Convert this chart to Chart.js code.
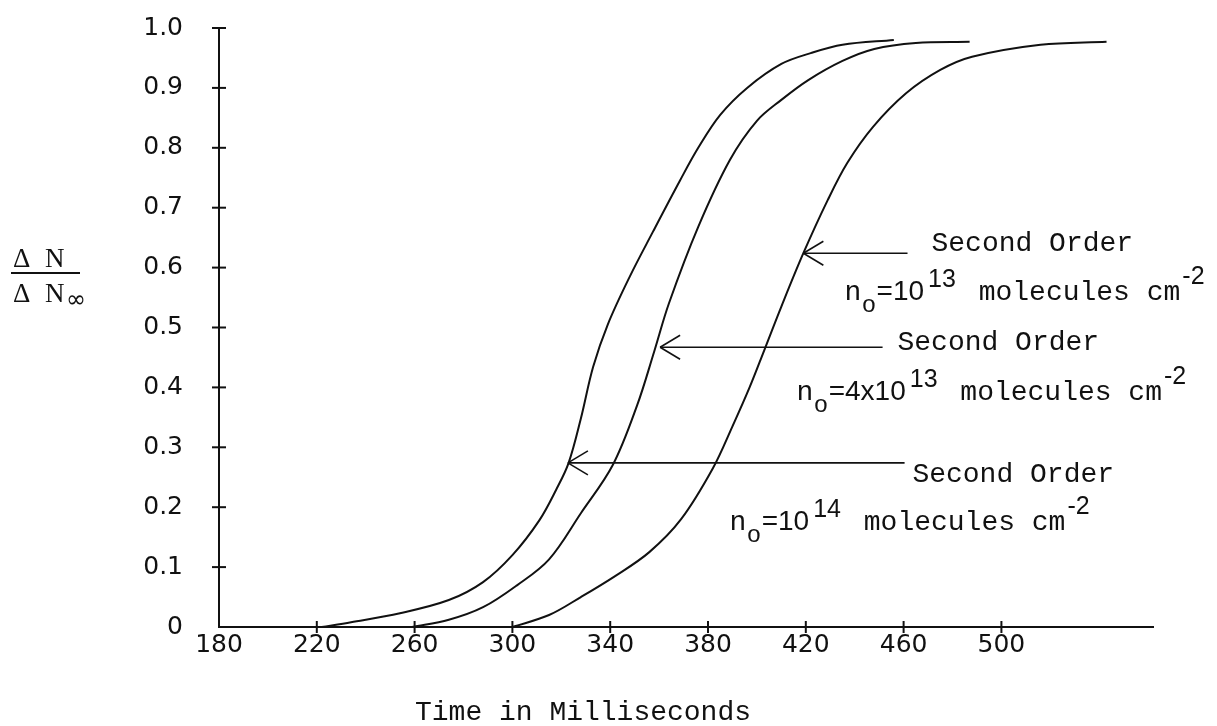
<!DOCTYPE html>
<html><head><meta charset="utf-8">
<script src="https://cdn.jsdelivr.net/npm/chart.js@4.4.1/dist/chart.umd.min.js"></script>
<style>html,body{margin:0;padding:0;background:#fff;}canvas{display:block;}</style>
</head><body>
<canvas id="c" width="1217" height="726"></canvas>
<script>
// ---- data ----
const xTickValues = [180, 220, 260, 300, 340, 380, 420, 460, 500];
const yTickValues = [0, 0.1, 0.2, 0.3, 0.4, 0.5, 0.6, 0.7, 0.8, 0.9, 1.0];
const yTickLabels = ['0', '0.1', '0.2', '0.3', '0.4', '0.5', '0.6', '0.7', '0.8', '0.9', '1.0'];

// n0 = 10^14 (leftmost curve)
const time14  = [222, 234, 254, 274, 288, 300, 311, 318, 323, 328, 333, 339, 348, 357.5, 368.5, 376, 385, 396, 410, 422, 435, 456];
const value14 = [0, 0.008, 0.023, 0.045, 0.075, 0.12, 0.178, 0.23, 0.274, 0.348, 0.434, 0.505, 0.585, 0.66, 0.745, 0.80, 0.855, 0.90, 0.94, 0.958, 0.972, 0.98];

// n0 = 4x10^13 (middle curve)
const time4e13  = [259, 274, 288, 302, 315, 328, 341, 351, 358, 364, 376, 389, 400, 410, 421, 435, 448, 465, 487];
const value4e13 = [0, 0.012, 0.033, 0.07, 0.113, 0.19, 0.27, 0.37, 0.46, 0.54, 0.668, 0.78, 0.845, 0.88, 0.913, 0.945, 0.965, 0.975, 0.977];

// n0 = 10^13 (rightmost curve)
const time13  = [300, 315, 328, 342, 356, 369, 382, 390, 397, 403, 410, 419, 429, 437, 447.5, 461, 475, 488, 516, 543];
const value13 = [0, 0.02, 0.05, 0.085, 0.125, 0.18, 0.265, 0.335, 0.40, 0.462, 0.535, 0.624, 0.713, 0.775, 0.835, 0.891, 0.93, 0.952, 0.972, 0.977];

const annotationLabels = ['Second Order', 'Second Order', 'Second Order'];
const annotationBases  = ['=10', '=4x10', '=10'];
const annotationExps   = ['13', '13', '14'];

// annotation placement (data coordinates)
const annotations = [
  { tipT: 419.0, tipV: 0.624, endT: 461.6, headT: 471.4, headV: 0.628, lineT: 435.8, lineV: 0.546 },
  { tipT: 360.4, tipV: 0.467, endT: 451.4, headT: 457.5, headV: 0.462, lineT: 416.2, lineV: 0.379 },
  { tipT: 322.7, tipV: 0.274, endT: 460.4, headT: 463.6, headV: 0.242, lineT: 388.8, lineV: 0.162 }
];

const toPoints = (ts, vs) => ts.map((t, i) => ({ x: t, y: vs[i] }));
const INK = '#111';
const MONO = '28px "Liberation Mono"';
const SANS = '28px "Liberation Sans"';
const SUP = '25px "Liberation Sans"';
const SUB = '24px "Liberation Sans"';

function line(ctx, x1, y1, x2, y2) { ctx.beginPath(); ctx.moveTo(x1, y1); ctx.lineTo(x2, y2); ctx.stroke(); }

const decor = {
  id: 'decor',
  afterDraw(chart) {
    const { ctx, scales: { x, y } } = chart;
    ctx.save();
    ctx.strokeStyle = INK; ctx.fillStyle = INK; ctx.lineWidth = 2;
    // crossing tick marks
    yTickValues.forEach(v => { if (v === 0) return; const py = y.getPixelForValue(v); line(ctx, x.left - 7, py, x.left + 7, py); });
    xTickValues.forEach(v => { if (v === 180) return; const px = x.getPixelForValue(v); line(ctx, px, y.bottom - 6, px, y.bottom + 6); });

    // annotations
    ctx.textAlign = 'left'; ctx.textBaseline = 'alphabetic';
    annotations.forEach((a, i) => {
      const tx = x.getPixelForValue(a.tipT), ty = y.getPixelForValue(a.tipV);
      const ex = x.getPixelForValue(a.endT);
      ctx.lineWidth = 1.6;
      line(ctx, tx, ty, ex, ty);
      line(ctx, tx, ty, tx + 20, ty - 12);
      line(ctx, tx, ty, tx + 20, ty + 12);
      ctx.font = MONO;
      ctx.fillText(annotationLabels[i], x.getPixelForValue(a.headT), y.getPixelForValue(a.headV));
      let px = x.getPixelForValue(a.lineT);
      const by = y.getPixelForValue(a.lineV);
      const segs = [
        { t: 'n', f: MONO, dy: 0, gap: 1 },
        { t: 'o', f: SUB, dy: 12, gap: 1 },
        { t: annotationBases[i], f: SANS, dy: 0, gap: 4 },
        { t: annotationExps[i], f: SUP, dy: -13, gap: 6 },
        { t: ' molecules cm', f: MONO, dy: 0, gap: 2 },
        { t: '-2', f: SUP, dy: -16, gap: 0 }
      ];
      segs.forEach(s => { ctx.font = s.f; ctx.fillText(s.t, px, by + s.dy); px += ctx.measureText(s.t).width + s.gap; });
    });

    // y-axis title as fraction
    ctx.font = '27px "Liberation Serif"';
    ctx.fillText('\u0394', 13, 267);
    ctx.fillText('N', 45, 267);
    ctx.lineWidth = 1.8;
    line(ctx, 11, 273, 80, 273);
    ctx.fillText('\u0394', 13, 302);
    ctx.fillText('N', 45, 302);
    ctx.font = '24px "DejaVu Sans"';
    ctx.fillText('\u221E', 66, 307);

    // x-axis title
    ctx.font = MONO; ctx.textAlign = 'center';
    ctx.fillText('Time in Milliseconds', 583, 720);
    ctx.restore();
  }
};

const ds = (label, pts) => ({
  label, data: pts, borderColor: INK, borderWidth: 2, pointRadius: 0, fill: false,
  tension: 0.35
});

new Chart(document.getElementById('c').getContext('2d'), {
  type: 'line',
  data: {
    datasets: [
      ds('n0=10^14', toPoints(time14, value14)),
      ds('n0=4x10^13', toPoints(time4e13, value4e13)),
      ds('n0=10^13', toPoints(time13, value13))
    ]
  },
  options: {
    responsive: false, animation: false, devicePixelRatio: 1,
    layout: { padding: { top: 28, right: 64, left: 0, bottom: 0 } },
    plugins: { legend: { display: false }, tooltip: { enabled: false } },
    scales: {
      x: {
        type: 'linear', min: 180, max: 562,
        grid: { display: false, drawTicks: false },
        border: { display: true, color: INK, width: 2 },
        afterBuildTicks: s => { s.ticks = xTickValues.map(v => ({ value: v })); },
        afterFit: s => { s.height = 99; },
        ticks: { color: INK, font: { family: 'DejaVu Sans', size: 25 }, padding: 3, maxRotation: 0, autoSkip: false }
      },
      y: {
        type: 'linear', min: 0, max: 1,
        grid: { display: false, drawTicks: true, tickLength: 36 },
        border: { display: true, color: INK, width: 2 },
        afterBuildTicks: s => { s.ticks = yTickValues.map(v => ({ value: v })); },
        afterFit: s => { s.width = 219; },
        ticks: {
          color: INK, font: { family: 'DejaVu Sans', size: 25 }, padding: 0, autoSkip: false,
          callback: v => { const i = yTickValues.findIndex(t => Math.abs(t - v) < 1e-6); return i >= 0 ? yTickLabels[i] : ''; }
        }
      }
    }
  },
  plugins: [decor]
});
</script>
</body></html>
